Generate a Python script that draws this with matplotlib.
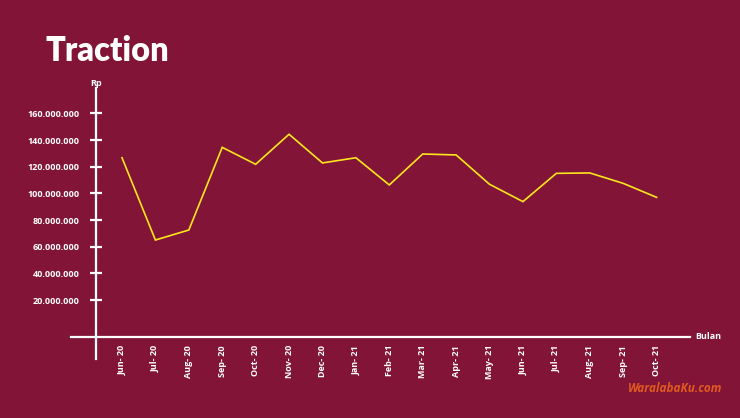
import matplotlib.pyplot as plt
from matplotlib.lines import Line2D

bg = '#821537'
yellow = '#ffe61e'

months = ['Jun- 20', 'Jul- 20', 'Aug- 20', 'Sep- 20', 'Oct- 20', 'Nov- 20',
          'Dec- 20', 'Jan- 21', 'Feb- 21', 'Mar- 21', 'Apr- 21', 'May- 21',
          'Jun- 21', 'Jul- 21', 'Aug- 21', 'Sep- 21', 'Oct- 21']
revenue = [126.7, 65.0, 72.5, 134.5, 121.8, 144.3, 122.8, 126.7, 106.3,
           129.5, 128.8, 106.8, 93.8, 115.0, 115.3, 107.5, 97.0]  # juta Rp
yticks = [20, 40, 60, 80, 100, 120, 140, 160]
ylabels = ['20.000.000', '40.000.000', '60.000.000', '80.000.000',
           '100.000.000', '120.000.000', '140.000.000', '160.000.000']

plt.rcParams['font.family'] = ['Open Sans', 'DejaVu Sans']

fig = plt.figure(figsize=(7.4, 4.18), dpi=100, facecolor=bg)
ax = fig.add_axes([95.7/740, 1-336.7/418, (690-95.7)/740, (336.7-88)/418])
ax.set_facecolor(bg)

x = list(range(len(months)))
ax.plot(x, revenue, color=yellow, lw=1.2, solid_joinstyle='miter')

ax.set_xlim(-0.787, 17.0)
ax.set_ylim(-7.5, 179)
for s in ax.spines.values():
    s.set_visible(False)

ax.set_yticks(yticks)
ax.set_yticklabels(ylabels, color='white', fontsize=6.5, fontweight='bold')
ax.tick_params(axis='y', direction='inout', length=9, width=1.6, color='white', pad=7)
ax.set_xticks(x)
ax.set_xticklabels(months, rotation=90, color='white', fontsize=6.5,
                   fontweight='bold', va='top')
ax.tick_params(axis='x', length=0, pad=6)

# garis sumbu
ax.add_line(Line2D([0, 0], [-0.09, 1.0], transform=ax.transAxes, color='white',
                   lw=1.6, clip_on=False))
ax.add_line(Line2D([-0.0415, 1.0], [0, 0], transform=ax.transAxes, color='white',
                   lw=1.6, clip_on=False))

fig.text(95.7/740, 1-88/418, 'Rp', color='white', fontsize=6.5,
         fontweight='bold', ha='center', va='bottom')
fig.text(695/740, 1-336.7/418, 'Bulan', color='white', fontsize=6.5,
         fontweight='bold', ha='left', va='center')

fig.text(45/740, 1-51/418, 'Traction', color='white', fontsize=23.5,
         fontweight='heavy', ha='left', va='center', family=['Lato', 'DejaVu Sans'])

fig.text(675/740, 1-389/418, 'WaralabaKu.com', color='#e0591f', fontsize=8.5,
         fontweight='bold', style='italic', ha='center', va='center')

fig.savefig('out.png', dpi=100, facecolor=bg)
